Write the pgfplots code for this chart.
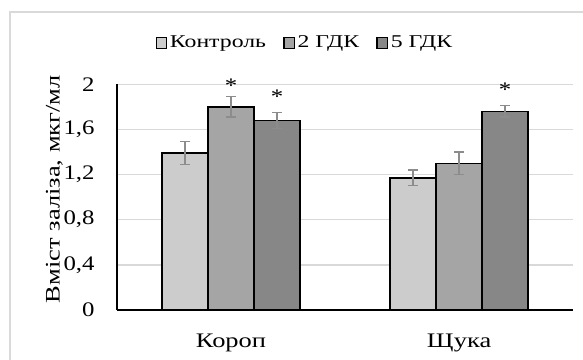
\documentclass[border=0pt]{standalone}
\usepackage{pgfplots}
\pgfplotsset{compat=1.18}
\usepackage{fontspec}
\setmainfont{Liberation Serif}[FakeStretch=1.2]
\newfontfamily\xlabfont{Liberation Serif}[FakeStretch=1.28]
\newfontfamily\legfont{Liberation Serif}[FakeStretch=1.32]
\definecolor{cA}{HTML}{CCCCCC}
\definecolor{cB}{HTML}{A5A5A5}
\definecolor{cC}{HTML}{878787}
\definecolor{gridc}{HTML}{D9D9D9}
\definecolor{errc}{HTML}{8C8C8C}
\begin{document}
\fontsize{15.5}{18}\selectfont
\begin{tikzpicture}
\useasboundingbox (0,0) rectangle (437.25pt,270pt);
\draw[color=gridc, line width=1.1pt] (7.5pt,0) -- (7.5pt,261pt) -- (437.25pt,261pt);
\begin{axis}[
  at={(87.75pt,37.5pt)}, anchor=south west,
  scale only axis, width=342pt, height=169.3pt,
  ybar, ymin=0, ymax=2, xmin=-0.5, xmax=1.5,
  clip=false,
  axis lines=left, axis line style={black, line width=0.9pt, -},
  ymajorgrids, grid style={gridc, line width=1.1pt},
  ytick={0,0.4,0.8,1.2,1.6,2},
  xtick={0,1}, xticklabels={Короп,Щука},
  major tick length=0pt,
  xticklabel style={yshift=-12.5pt, font=\xlabfont\fontsize{15.5}{18}\selectfont},
  yticklabel style={xshift=-11.5pt, font=\fontsize{15.5}{18}\selectfont},
  /pgf/number format/.cd, use comma, fixed, precision=1, assume math mode=true,
  /pgfplots/.cd,
  ylabel={Вміст заліза, мкг/мл},
  every axis y label/.style={at={(axis description cs:0,0.5)}, xshift=-47pt, yshift=6pt, rotate=90, anchor=center, font=\xlabfont\fontsize{15.5}{18}\selectfont},
  bar width=34.5pt,
  legend style={at={(0.413,1.183)}, anchor=center, draw=none, fill=none,
    legend columns=-1, font=\legfont\fontsize{13.5}{16}\selectfont,
    /tikz/every even column/.append style={column sep=11pt},
    inner sep=0pt},
  legend image code/.code={\draw[#1, line width=0.9pt] (0pt,-3.9pt) rectangle (7.8pt,3.9pt);},
  error bars/y dir=both, error bars/y explicit,
  error bars/error bar style={errc, line width=0.9pt},
  error bars/error mark options={rotate=90, mark size=3.6pt, errc, line width=0.9pt},
]
\addplot[fill=cA, draw=black, line width=1.1pt, bar shift=-34.5pt] coordinates {(0,1.39) +- (0,0.10) (1,1.17) +- (0,0.07)};
\addplot[fill=cB, draw=black, line width=1.1pt, bar shift=0pt] coordinates {(0,1.80) +- (0,0.09) (1,1.30) +- (0,0.10)};
\addplot[fill=cC, draw=black, line width=1.1pt, bar shift=34.5pt] coordinates {(0,1.68) +- (0,0.07) (1,1.76) +- (0,0.05)};
\legend{Контроль,2 ГДК,5 ГДК}
\addplot[forget plot, only marks, mark=*, mark size=0pt, draw=none, fill=none, bar shift=0pt,
  error bars/y dir=none,
  nodes near coords={*}, nodes near coords align={center},
  every node near coord/.append style={font=\fontsize{15.5}{18}\selectfont, inner sep=0pt}]
  coordinates {(0,1.99) (0.2018,1.89) (1.2018,1.955)};
\end{axis}
\end{tikzpicture}
\end{document}
